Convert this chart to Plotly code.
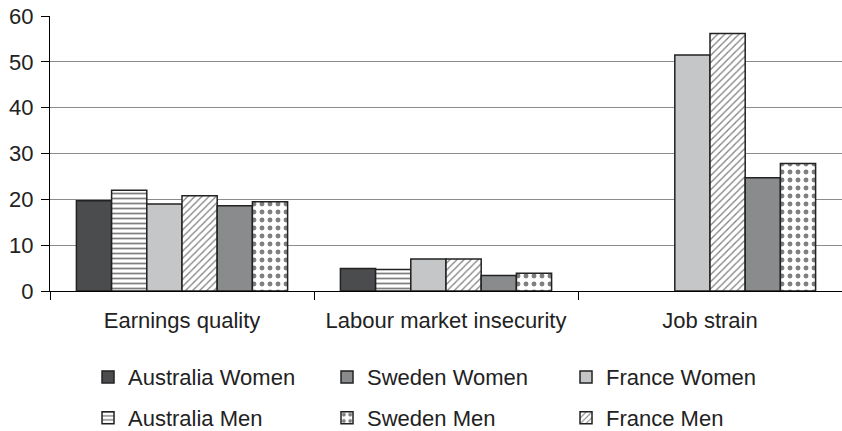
import plotly.graph_objects as go

categories = ["Earnings quality", "Labour market insecurity", "Job strain"]
series_names = ["Australia Women", "Australia Men", "France Women", "France Men", "Sweden Women", "Sweden Men"]
australia_women = [19.7, 4.9, None]
australia_men = [22.0, 4.7, None]
france_women = [19.0, 7.0, 51.5]
france_men = [20.8, 7.0, 56.2]
sweden_women = [18.6, 3.4, 24.7]
sweden_men = [19.5, 3.9, 27.8]
y_ticks = [0, 10, 20, 30, 40, 50, 60]

values = [australia_women, australia_men, france_women, france_men, sweden_women, sweden_men]
styles = {
    "Australia Women": dict(color="#4b4c4e", pattern=dict(shape="")),
    "Australia Men": dict(color="white", pattern=dict(shape="-", fgcolor="black", bgcolor="white", size=5, solidity=0.35)),
    "France Women": dict(color="#c5c6c8", pattern=dict(shape="")),
    "France Men": dict(color="white", pattern=dict(shape="/", fgcolor="black", bgcolor="white", size=5, solidity=0.25)),
    "Sweden Women": dict(color="#8a8b8d", pattern=dict(shape="")),
    "Sweden Men": dict(color="white", pattern=dict(shape=".", fgcolor="black", bgcolor="white", size=8, solidity=0.3)),
}
legend_map = {
    "Australia Women": ("legend", 1), "Sweden Women": ("legend", 2), "France Women": ("legend", 3),
    "Australia Men": ("legend2", 1), "Sweden Men": ("legend2", 2), "France Men": ("legend2", 3),
}

fig = go.Figure()
for name, vals in zip(series_names, values):
    st = styles[name]
    lg, rank = legend_map[name]
    fig.add_trace(go.Bar(
        x=categories, y=vals, name=name,
        marker=dict(color=st["color"], pattern=st["pattern"], line=dict(color="#222222", width=1.5)),
        legend=lg, legendrank=rank,
    ))

font = dict(family="Liberation Sans, Arial, sans-serif", size=22, color="#222222")
legend_common = dict(
    orientation="h", x=0.048, xanchor="left", yanchor="middle",
    entrywidth=194, entrywidthmode="pixels", itemwidth=30,
    font=font, bgcolor="rgba(0,0,0,0)", traceorder="normal",
)

fig.update_layout(
    width=842, height=431,
    margin=dict(l=50, r=0, t=16, b=140, autoexpand=False),
    plot_bgcolor="white", paper_bgcolor="white",
    barmode="group", bargap=0.2, bargroupgap=0,
    font=font,
    legend=dict(**legend_common, y=-0.313),
    legend2=dict(**legend_common, y=-0.462),
    xaxis=dict(
        showline=True, linecolor="black", linewidth=1.2, automargin=False,
        ticks="outside", tickson="boundaries", ticklen=8, tickcolor="black",
        ticklabelstandoff=9, tickfont=font, showgrid=False,
    ),
    yaxis=dict(
        range=[0, 60], tickvals=y_ticks, showline=True, linecolor="black", linewidth=1.2,
        automargin=False,
        ticks="outside", ticklen=8, tickcolor="black", ticklabelstandoff=3,
        showgrid=True, gridcolor="#8c8c8c", gridwidth=1, zeroline=False,
        tickfont=font,
    ),
)

fig.write_html("out.html", config={"displayModeBar": False},
               post_script="document.body.style.margin='0';")
